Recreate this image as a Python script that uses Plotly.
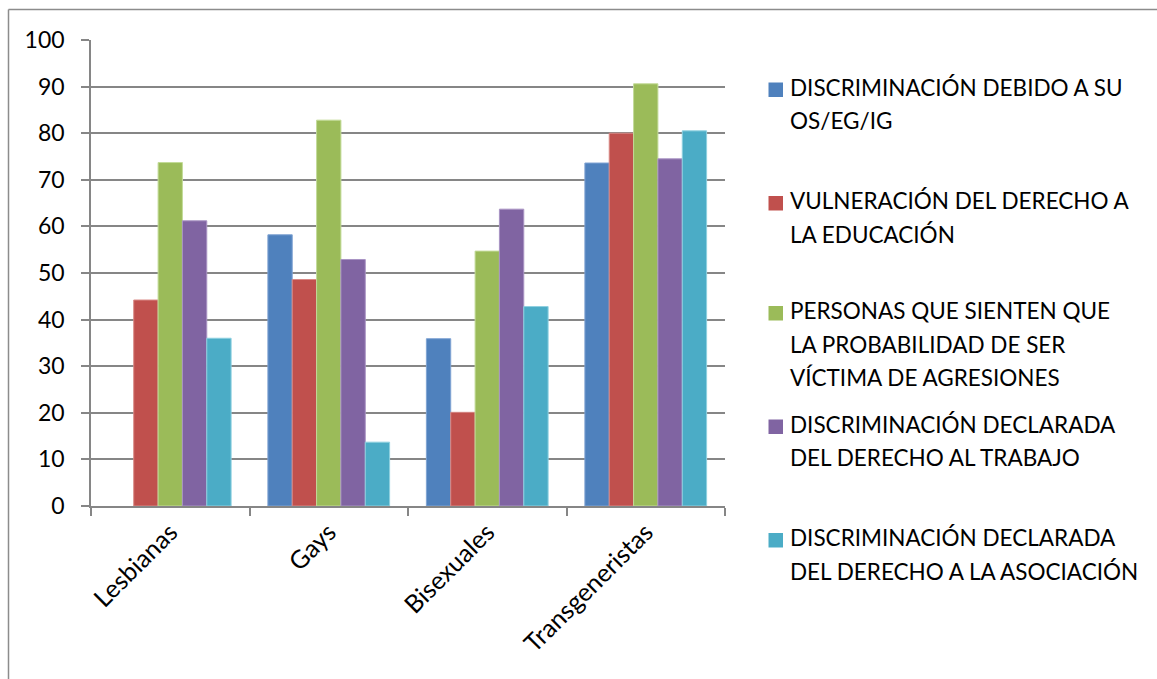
import plotly.graph_objects as go

# Categories and series values (%)
categorias = ["Lesbianas", "Gays", "Bisexuales", "Transgeneristas"]

discriminacion_os = [None, 58.2, 35.9, 73.6]
vulneracion_educacion = [44.2, 48.6, 20.1, 80.0]
probabilidad_agresiones = [73.7, 82.8, 54.7, 90.6]
discriminacion_trabajo = [61.2, 52.9, 63.7, 74.5]
discriminacion_asociacion = [36.0, 13.7, 42.8, 80.5]

series_nombres = [
    ["DISCRIMINACIÓN DEBIDO A SU", "OS/EG/IG"],
    ["VULNERACIÓN DEL DERECHO A", "LA EDUCACIÓN"],
    ["PERSONAS QUE SIENTEN QUE", "LA PROBABILIDAD DE SER", "VÍCTIMA DE AGRESIONES"],
    ["DISCRIMINACIÓN DECLARADA", "DEL DERECHO AL TRABAJO"],
    ["DISCRIMINACIÓN DECLARADA", "DEL DERECHO A LA ASOCIACIÓN"],
]
series_valores = [
    discriminacion_os,
    vulneracion_educacion,
    probabilidad_agresiones,
    discriminacion_trabajo,
    discriminacion_asociacion,
]
colores = ["#4F81BD", "#C0504D", "#9BBB59", "#8064A2", "#4BACC6"]
bordes = ["#7FA3D3", "#D98986", "#C3DB98", "#A994C4", "#8ED0E0"]

W, H = 1157, 679
L, R, T, B = 91, 725, 40, 506  # plot area in pixels
FONT = "Lato"

fig = go.Figure()
for nombre, vals, c, bc in zip(series_nombres, series_valores, colores, bordes):
    fig.add_trace(go.Bar(
        x=categorias, y=vals, name=" ".join(nombre),
        marker=dict(color=c, line=dict(color=bc, width=1)),
        showlegend=False,
    ))


def px_x(px):
    return (px - L) / (R - L)


def px_y(py):
    return (B - py) / (B - T)


shapes = [
    # chart frame (top and left edges)
    dict(type="line", xref="paper", yref="paper",
         x0=px_x(8.5), x1=px_x(W + 5), y0=px_y(9.5), y1=px_y(9.5),
         line=dict(color="#8C8C8C", width=1.5)),
    dict(type="line", xref="paper", yref="paper",
         x0=px_x(8.5), x1=px_x(8.5), y0=px_y(9.5), y1=px_y(H + 5),
         line=dict(color="#8C8C8C", width=1.5)),
]

annotations = []
item_tops = [89, 202.5, 312.5, 426, 539.5]
line_step = 33.5
for i, (lines, c) in enumerate(zip(series_nombres, colores)):
    y0 = item_tops[i]
    shapes.append(dict(type="rect", xref="paper", yref="paper",
                       x0=px_x(768.5), x1=px_x(783), y0=px_y(y0 - 6.5), y1=px_y(y0 + 8),
                       fillcolor=c, line=dict(width=0)))
    for j, txt in enumerate(lines):
        annotations.append(dict(
            text=txt, xref="paper", yref="paper",
            x=px_x(788), y=px_y(y0 + j * line_step - 2),
            xanchor="left", yanchor="middle", showarrow=False,
            font=dict(family=FONT, size=22.5, color="#000000"),
        ))

fig.update_layout(
    width=W, height=H,
    margin=dict(l=L, r=W - R, t=T, b=H - B),
    paper_bgcolor="white", plot_bgcolor="white",
    barmode="group", bargap=0.232, bargroupgap=0,
    font=dict(family=FONT, size=22, color="#000000"),
    shapes=shapes, annotations=annotations,
    xaxis=dict(
        type="category", tickangle=-45, tickson="boundaries",
        ticks="outside", ticklen=8, tickcolor="#868686", tickwidth=1.5,
        showline=True, linecolor="#868686", linewidth=1.5,
        showgrid=False, tickfont=dict(family=FONT, size=25),
    ),
    yaxis=dict(
        range=[0, 100], dtick=10, tick0=0,
        ticks="outside", ticklen=8, tickcolor="#868686", tickwidth=1.5,
        showline=True, linecolor="#868686", linewidth=1.5,
        showgrid=True, gridcolor="#868686", gridwidth=1.5,
        zeroline=False, ticklabelstandoff=12,
        tickfont=dict(family=FONT, size=23),
    ),
)

fig.write_html("out.html")
